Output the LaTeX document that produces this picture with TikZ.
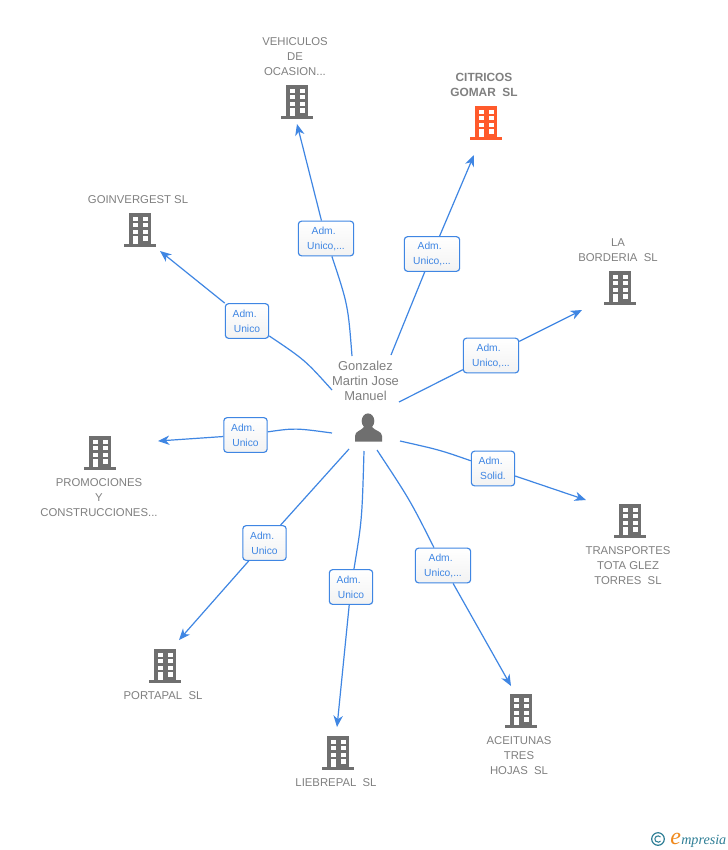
\documentclass[tikz,border=0pt]{standalone}
\usepackage{fontspec}
\setmainfont{Liberation Sans}
\newfontfamily\logofont{Liberation Serif}
\usetikzlibrary{arrows.meta,backgrounds}
\definecolor{linkblue}{HTML}{3F86E3}
\definecolor{txtgray}{HTML}{808080}
\definecolor{iconGray}{HTML}{6F6F6F}
\definecolor{iconOrange}{HTML}{FF5A2B}
\definecolor{logoTeal}{HTML}{2F7F96}
\definecolor{logoOrange}{HTML}{F08A1D}
\newcommand\admline{Adm.\kern3.5pt}
\tikzset{
  x=0.75pt,y=-0.75pt,
  link/.style={draw=linkblue,line width=0.9pt},
  arrowlink/.style={link,-{Stealth[length=8.5pt,width=7pt,inset=2.6pt]}},
  rel/.style={draw=linkblue,line width=0.85pt,rounded corners=2.4pt,top color=white,bottom color=white!95!black,
    text=linkblue,font=\fontsize{7.7}{11.25}\selectfont,align=center,inner sep=0pt,minimum height=26pt,
    execute at begin node={\rule{0pt}{7.6pt}}},
  relwide/.style={rel,minimum width=41.5pt},
  relnarrow/.style={rel,minimum width=32.5pt},
  cname/.style={text=txtgray,font=\fontsize{8.5}{11.25}\selectfont,align=center,inner sep=0pt},
  pname/.style={text=txtgray,font=\fontsize{9.7}{11.25}\selectfont,align=center,inner sep=0pt},
  bldg/.pic={
    \fill[pic actions] (-11,-34) rectangle (11,-2);
    \fill[pic actions] (-16,-2.6) rectangle (16,0);
    \foreach \cx in {-7,3}{\foreach \cy in {-30,-23.6,-17.3}{\fill[white] (\cx,\cy) rectangle +(5,4);}}
    \fill[white] (-7,-10.8) rectangle (-2,-2.6);
    \fill[white] (3,-11) rectangle (8,-6.4);
  },
}
\begin{document}
\begin{tikzpicture}
\useasboundingbox (0,0) rectangle (728,850);

% buildings
\pic[fill=iconGray] (bveh) at (297,119) {bldg};
\pic[fill=iconOrange] (bcit) at (486,140) {bldg};
\pic[fill=iconGray] (bgoi) at (140,247) {bldg};
\pic[fill=iconGray] (blab) at (620,305) {bldg};
\pic[fill=iconGray] (bpro) at (100,470) {bldg};
\pic[fill=iconGray] (btra) at (630,538) {bldg};
\pic[fill=iconGray] (bace) at (521,728) {bldg};
\pic[fill=iconGray] (bpor) at (165,683) {bldg};
\pic[fill=iconGray] (blie) at (338,770) {bldg};

% person
\fill[iconGray] (368,421) ellipse (6.3 and 7.6);
\fill[iconGray] (355,441.5) -- (355,436) .. controls (355,431) and (361,431) .. (364,427) -- (372,427) .. controls (375,431) and (382,431) .. (382,436) -- (382,441.5) -- cycle;

% company names
\node[cname] (nveh) at (295,56.5) {VEHICULOS\\DE\\OCASION...};
\node[cname,font=\fontsize{8.9}{11.25}\selectfont\bfseries,text=txtgray] (ncit) at (484,84.5) {CITRICOS\\GOMAR\ \ SL};
\node[cname] (ngoi) at (138,199.5) {GOINVERGEST SL};
\node[cname] (nlab) at (618,250.5) {LA\\BORDERIA\ \ SL};
\node[cname] (npro) at (99,497.5) {PROMOCIONES\\Y\\CONSTRUCCIONES...};
\node[cname] (ntra) at (628,565.5) {TRANSPORTES\\TOTA GLEZ\\TORRES\ \ SL};
\node[cname] (nace) at (519,755.5) {ACEITUNAS\\TRES\\HOJAS\ \ SL};
\node[cname] (npor) at (163,695.5) {PORTAPAL\ \ SL};
\node[cname] (nlie) at (336,782.5) {LIEBREPAL\ \ SL};
\node[pname] (pers) at (365.5,381) {Gonzalez\\Martin Jose\\Manuel};

% relation labels
\node[relwide] (lveh) at (326,238.5) {\admline\\Unico,...};
\node[relwide] (lcit) at (432,254) {\admline\\Unico,...};
\node[relwide] (llab) at (491,355.5) {\admline\\Unico,...};
\node[relnarrow] (ltra) at (493,468.5) {\admline\\Solid.};
\node[relwide] (lace) at (443,565.5) {\admline\\Unico,...};
\node[relnarrow] (llie) at (351,587) {\admline\\Unico};
\node[relnarrow] (lpor) at (264.5,543) {\admline\\Unico};
\node[relnarrow] (lpro) at (245.5,435) {\admline\\Unico};
\node[relnarrow] (lgoi) at (247,321) {\admline\\Unico};

% connector ends
\coordinate (sveh) at (352,356);
\coordinate (eveh) at (297,124);
\coordinate (scit) at (391,355);
\coordinate (ecit) at (474,155);
\coordinate (slab) at (399,402);
\coordinate (elab) at (582,310);
\coordinate (stra) at (400,441);
\coordinate (etra) at (586,500);
\coordinate (sace) at (377,450);
\coordinate (eace) at (511,686);
\coordinate (slie) at (364,451);
\coordinate (elie) at (337,727);
\coordinate (spor) at (349,449);
\coordinate (epor) at (179,640);
\coordinate (spro) at (332,433);
\coordinate (epro) at (158,441);
\coordinate (sgoi) at (332,390);
\coordinate (egoi) at (160,251);

\begin{scope}[on background layer]
\fill[white] (0,0) rectangle (728,850);
\draw[link] (sveh) .. controls (348,305) .. (lveh);
\draw[link] (scit) -- (lcit);
\draw[link] (slab) -- (llab);
\draw[link] (stra) .. controls (440,450) .. (ltra);
\draw[link] (sace) .. controls (410,500) .. (lace);
\draw[link] (slie) .. controls (362,520) .. (llie);
\draw[link] (spor) -- (lpor);
\draw[link] (spro) .. controls (295,428) .. (lpro);
\draw[link] (sgoi) .. controls (305,360) .. (lgoi);
\draw[arrowlink] (lveh) -- (eveh);
\draw[arrowlink] (lcit) -- (ecit);
\draw[arrowlink] (llab) -- (elab);
\draw[arrowlink] (ltra) -- (etra);
\draw[arrowlink] (lace) -- (eace);
\draw[arrowlink] (llie) -- (elie);
\draw[arrowlink] (lpor) -- (epor);
\draw[arrowlink] (lpro) -- (epro);
\draw[arrowlink] (lgoi) -- (egoi);
\end{scope}

% logo
\draw[logoTeal,line width=0.9pt] (658,839) circle (6.3);
\draw[logoTeal,line width=0.8pt] (660.5,837) arc (-40:-320:3.2);
\node[inner sep=0pt,anchor=base west,text=logoOrange,font=\logofont\itshape\fontsize{18}{18}\selectfont] (loge) at (670,844) {e};
\node[inner sep=0pt,anchor=base west,text=logoTeal,font=\logofont\itshape\fontsize{10.6}{11}\selectfont] (logm) at (681,844) {mpresia};
\end{tikzpicture}
\end{document}
